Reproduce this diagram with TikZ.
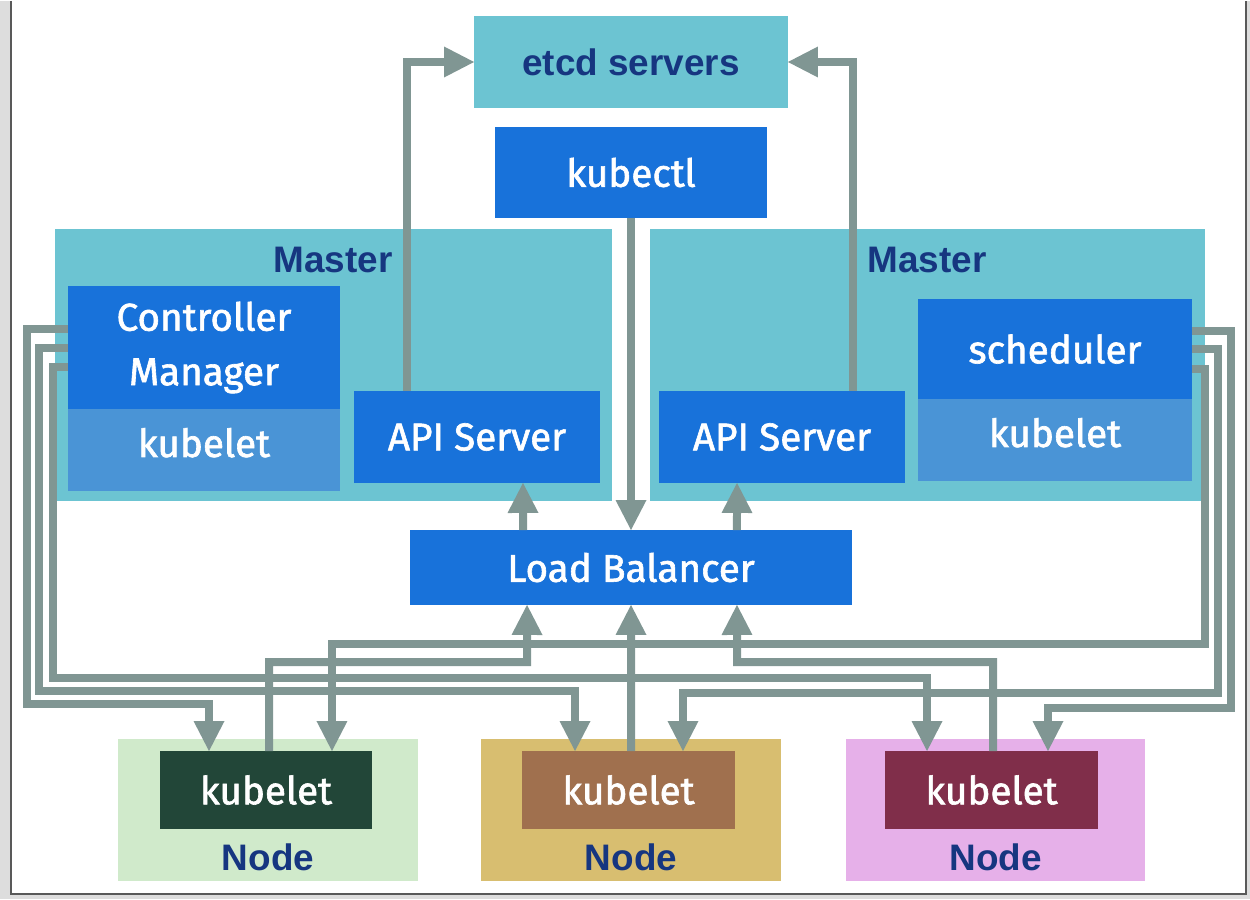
\documentclass[tikz,border=0pt]{standalone}
\usepackage{fontspec}
\setmainfont{Liberation Sans}
\newfontfamily\boxfont[FakeBold=1.6]{Fira Sans}
\usetikzlibrary{arrows.meta, positioning}

\definecolor{mastercol}{RGB}{108,196,210}
\definecolor{bluebox}{RGB}{24,114,218}
\definecolor{kubeblue}{RGB}{74,148,214}
\definecolor{navy}{RGB}{22,54,128}
\definecolor{linkgray}{RGB}{128,150,147}
\definecolor{nodegreen}{RGB}{208,234,203}
\definecolor{kubegreen}{RGB}{34,70,56}
\definecolor{nodetan}{RGB}{216,190,112}
\definecolor{kubebrown}{RGB}{160,112,78}
\definecolor{nodepink}{RGB}{230,176,233}
\definecolor{kubemaroon}{RGB}{128,46,74}
\definecolor{framegray}{RGB}{221,221,221}

\begin{document}
\begin{tikzpicture}[x=0.02cm, y=-0.02cm]
        % Style definitions
        \tikzstyle{plain} = [inner sep=0pt, outer sep=0pt, align=center]
        \tikzstyle{area} = [plain, fill=mastercol]
        \tikzstyle{comp} = [plain, fill=bluebox, text=white, font=\boxfont\fontsize{22}{31}\selectfont]
        \tikzstyle{title} = [inner sep=0pt, text=navy, font=\bfseries\fontsize{21}{25}\selectfont]
        \tikzstyle{link} = [draw=linkgray, line width=0.16cm, -{Triangle[width=0.62cm, length=0.6cm, line width=0pt]}]

        % Frame
        \fill[framegray] (0,0) rectangle (1250,898);
        \fill[white] (11,0) rectangle (1246,893);
        \draw[line width=0.04cm, black!65] (11,0) -- (11,893) -- (1246,893) -- (1246,0);

        % Top
        \node [area, title, minimum width=6.28cm, minimum height=1.84cm] (etcd) at (631,61) {etcd servers};
        \node [comp, minimum width=5.46cm, minimum height=1.82cm] (kubectl) at (631,171.5) {kubectl};

        % Masters
        \node [area, minimum width=11.14cm, minimum height=5.44cm] (masterL) at (333.5,364) {};
        \node [area, minimum width=11.1cm, minimum height=5.44cm] (masterR) at (927.5,364) {};
        \node [title] (masterLtitle) at (333,259) {Master};
        \node [title] (masterRtitle) at (927,259) {Master};

        \node [comp, minimum width=5.44cm, minimum height=2.46cm] (cm) at (204,346.5) {Controller\\Manager};
        \node [comp, fill=kubeblue, text depth=0.3cm, minimum width=5.44cm, minimum height=1.64cm, below=0pt of cm] (kubeL) {kubelet};
        \node [comp, minimum width=4.92cm, minimum height=1.84cm] (apiL) at (477,436) {API Server};
        \node [comp, minimum width=4.92cm, minimum height=1.84cm] (apiR) at (782,436) {API Server};
        \node [comp, minimum width=5.48cm, minimum height=2.0cm] (sched) at (1055,348) {scheduler};
        \node [comp, fill=kubeblue, text depth=0.3cm, minimum width=5.48cm, minimum height=1.64cm, below=0pt of sched] (kubeR) {kubelet};

        \node [comp, minimum width=8.84cm, minimum height=1.5cm] (lb) at (631,566.5) {Load Balancer};

        % Worker nodes
        \node [plain, fill=nodegreen, minimum width=6cm, minimum height=2.84cm] (nodeA) at (268,809) {};
        \node [plain, fill=nodetan, minimum width=6cm, minimum height=2.84cm] (nodeB) at (631,809) {};
        \node [plain, fill=nodepink, minimum width=6cm, minimum height=2.84cm] (nodeC) at (995.5,809) {};
        \node [comp, fill=kubegreen, minimum width=4.24cm, minimum height=1.56cm] (kubA) at (266,789) {kubelet};
        \node [comp, fill=kubebrown, minimum width=4.26cm, minimum height=1.56cm] (kubB) at (628.5,789) {kubelet};
        \node [comp, fill=kubemaroon, minimum width=4.26cm, minimum height=1.56cm] (kubC) at (991.5,789) {kubelet};
        \node [title, below=0.28cm of kubA, xshift=0.04cm] (nodeAtitle) {Node};
        \node [title, below=0.28cm of kubB, xshift=0.05cm] (nodeBtitle) {Node};
        \node [title, below=0.28cm of kubC, xshift=0.08cm] (nodeCtitle) {Node};

        % Arrows
        \draw [link] ([xshift=1.06cm]apiL.north west) |- (etcd.west);
        \draw [link] ([xshift=-1.04cm]apiR.north east) |- (etcd.east);
        \draw [link] (kubectl.south) -- (kubectl.south |- lb.north);
        \draw [link] ([xshift=-2.16cm]lb.north) -- ([xshift=0.92cm]apiL.south);
        \draw [link] ([xshift=2.12cm]lb.north) -- ([xshift=-0.9cm]apiR.south);

        \draw [link] ([xshift=0.06cm]kubA.north) |- (527,661) -- ([xshift=-2.08cm]lb.south);
        \draw [link] ([xshift=0.05cm]kubB.north) -- (lb.south);
        \draw [link] ([xshift=0.03cm]kubC.north) |- (737,661) -- ([xshift=2.12cm]lb.south);

        \draw [link] ([yshift=0.37cm]cm.west) -| (27,703) -| ([xshift=-1.14cm]kubA.north);
        \draw [link] (cm.west) -| (39,690) -| ([xshift=-1.07cm]kubB.north);
        \draw [link] ([yshift=-0.39cm]cm.west) -| (53,677) -| ([xshift=-1.29cm]kubC.north);

        \draw [link] ([yshift=-0.4cm]sched.east) -| (1205,643) -| ([xshift=1.32cm]kubA.north);
        \draw [link] (sched.east) -| (1218,692) -| ([xshift=1.09cm]kubB.north);
        \draw [link] ([yshift=0.36cm]sched.east) -| (1231,707) -| ([xshift=1.13cm]kubC.north);
    \end{tikzpicture}
\end{document}
